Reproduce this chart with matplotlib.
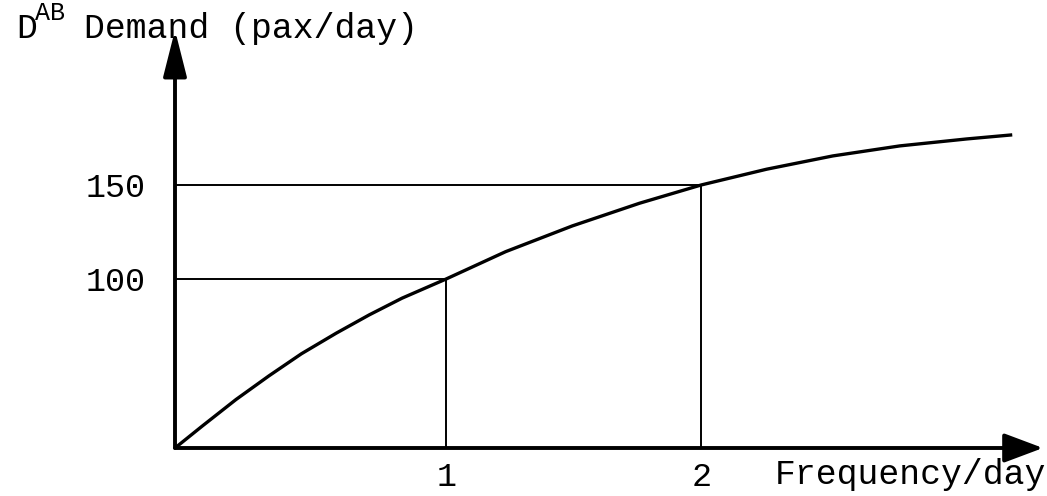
import numpy as np
import matplotlib
matplotlib.use("Agg")
import matplotlib.pyplot as plt

# ---- data ----
freq = [0, 0.09, 0.21, 0.33, 0.45, 0.58, 0.705, 0.83, 1.0, 1.23, 1.49,
        1.755, 2.0, 2.26, 2.525, 2.795, 3.066, 3.25]
demand = [0, 15.3, 31.8, 45.8, 58.5, 70.1, 80.3, 89.5, 100, 114.7, 128.4,
          140.4, 150, 158.2, 165.1, 170.3, 173.9, 176.0]
marked_freq = [1, 2]
marked_demand = [100, 150]
xtick_labels = ["1", "2"]
ytick_labels = ["100", "150"]
x_label = "Frequency/day"
y_label = "Demand (pax/day)"
y_symbol = "D"
y_symbol_sup = "AB"

FONT = "Liberation Mono"
W, H = 1047, 496

fig = plt.figure(figsize=(W / 100, H / 100), dpi=100)
fig.patch.set_facecolor("white")

# axes box: origin at px (175, 448), x arrow tip ~1043, y arrow tip ~30
x0, y0, x1, y1 = 175, 448, 1043, 30
ax = fig.add_axes([x0 / W, (H - y0) / H, (x1 - x0) / W, (y0 - y1) / H])

px_, py_ = 0.956, 1.09
ax.set_xscale("function", functions=(lambda v: np.sign(v) * np.abs(v) ** px_,
                                     lambda v: np.sign(v) * np.abs(v) ** (1 / px_)))
ax.set_yscale("function", functions=(lambda v: np.sign(v) * np.abs(v) ** py_,
                                     lambda v: np.sign(v) * np.abs(v) ** (1 / py_)))
ax.set_xlim(0, 3.375)
ax.set_ylim(0, 229.4)

for s in ax.spines.values():
    s.set_visible(False)
ax.patch.set_alpha(0)

# guide lines
for f, d in zip(marked_freq, marked_demand):
    ax.plot([0, f], [d, d], color="black", lw=1.4, solid_capstyle="butt")
    ax.plot([f, f], [0, d], color="black", lw=1.4, solid_capstyle="butt")

# curve
ax.plot(freq, demand, color="black", lw=2.4, solid_capstyle="butt",
        solid_joinstyle="round")

# axes arrows
ax.annotate("", xy=(1, 0), xytext=(0, 0), xycoords="axes fraction",
            arrowprops=dict(arrowstyle="-|>,head_length=0.8,head_width=0.3",
                            lw=2.8, color="black",
                            mutation_scale=30, shrinkA=0, shrinkB=0))
ax.annotate("", xy=(0, 1), xytext=(0, 0), xycoords="axes fraction",
            arrowprops=dict(arrowstyle="-|>,head_length=0.95,head_width=0.24",
                            lw=2.8, color="black",
                            mutation_scale=30, shrinkA=0, shrinkB=0))

# ticks
ax.set_xticks(marked_freq, labels=xtick_labels)
ax.set_yticks(marked_demand, labels=ytick_labels)
ax.tick_params(axis="both", length=0, labelsize=24, labelcolor="black")
ax.tick_params(axis="y", pad=21)
ax.tick_params(axis="x", pad=10)
for lab in ax.get_xticklabels() + ax.get_yticklabels():
    lab.set_fontfamily(FONT)

# labels
def ftext(x, y, s, size, **kw):
    fig.text(x / W, 1 - y / H, s, fontsize=size, family=FONT, color="black", **kw)

ftext(1046, 484, x_label, 25, ha="right", va="baseline")
ftext(84, 38, y_label, 25, ha="left", va="baseline")
ftext(16, 38, y_symbol, 25, ha="left", va="baseline")
ftext(35, 20, y_symbol_sup, 18, ha="left", va="baseline")

fig.savefig("out.png", dpi=100, facecolor="white")
